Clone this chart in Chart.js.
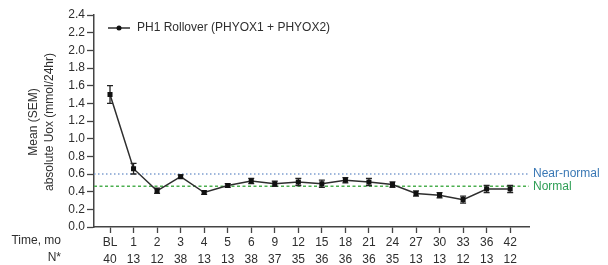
<!DOCTYPE html>
<html>
<head>
<meta charset="utf-8">
<script src="https://cdn.jsdelivr.net/npm/chart.js@4"></script>
<style>
    html, body { margin: 0; padding: 0; background: #fff; }
    #wrap { width: 608px; height: 265px; }
</style>
</head>
<body>
<div id="wrap"><canvas id="uoxChart" width="608" height="265"></canvas></div>
<script>
// Data
const timeLabels = ['BL', '1', '2', '3', '4', '5', '6', '9', '12', '15', '18', '21', '24', '27', '30', '33', '36', '42'];
const nLabels = ['40', '13', '12', '38', '13', '13', '38', '37', '35', '36', '36', '36', '35', '13', '13', '12', '13', '12'];
const meanUox = [1.50, 0.66, 0.41, 0.57, 0.39, 0.47, 0.52, 0.49, 0.51, 0.49, 0.53, 0.51, 0.48, 0.38, 0.36, 0.31, 0.43, 0.43];
const semUox = [0.10, 0.06, 0.03, 0.02, 0.02, 0.02, 0.03, 0.03, 0.04, 0.04, 0.03, 0.04, 0.03, 0.03, 0.03, 0.04, 0.04, 0.04];
const yTicks = [0, 0.2, 0.4, 0.6, 0.8, 1.0, 1.2, 1.4, 1.6, 1.8, 2.0, 2.2, 2.4];
const nearNormal = 0.6;
const normal = 0.46;

const FONT = '"Liberation Sans", Arial, Helvetica, sans-serif';
const INK = '#2e2e2e';
const FS = 12;

// Error bars, reference lines, legend and row headers
const extrasPlugin = {
    id: 'extras',
    beforeDatasetsDraw(chart) {
        const ctx = chart.ctx;
        const x = chart.scales.x;
        const y = chart.scales.y;
        const area = chart.chartArea;

        ctx.save();
        // Near-normal (blue dotted)
        ctx.strokeStyle = '#7f9fcf';
        ctx.lineWidth = 1.5;
        ctx.setLineDash([1.5, 2.5]);
        ctx.beginPath();
        ctx.moveTo(area.left, y.getPixelForValue(nearNormal));
        ctx.lineTo(area.right, y.getPixelForValue(nearNormal));
        ctx.stroke();
        // Normal (green dashed)
        ctx.strokeStyle = '#4caf50';
        ctx.setLineDash([3, 2.5]);
        ctx.beginPath();
        ctx.moveTo(area.left, y.getPixelForValue(normal));
        ctx.lineTo(area.right, y.getPixelForValue(normal));
        ctx.stroke();
        ctx.setLineDash([]);

        ctx.font = FS + 'px ' + FONT;
        ctx.textAlign = 'left';
        ctx.textBaseline = 'middle';
        ctx.fillStyle = '#3a78b5';
        ctx.fillText('Near-normal', area.right + 4, y.getPixelForValue(nearNormal));
        ctx.fillStyle = '#2e9e55';
        ctx.fillText('Normal', area.right + 4, y.getPixelForValue(normal));

        // SEM error bars
        ctx.strokeStyle = '#222';
        ctx.lineWidth = 1.3;
        meanUox.forEach((m, i) => {
            const px = x.getPixelForValue(i);
            const top = y.getPixelForValue(m + semUox[i]);
            const bot = y.getPixelForValue(m - semUox[i]);
            ctx.beginPath();
            ctx.moveTo(px, top); ctx.lineTo(px, bot);
            ctx.moveTo(px - 3, top); ctx.lineTo(px + 3, top);
            ctx.moveTo(px - 3, bot); ctx.lineTo(px + 3, bot);
            ctx.stroke();
        });
        ctx.restore();
    },
    afterDraw(chart) {
        const ctx = chart.ctx;
        const area = chart.chartArea;
        ctx.save();

        // Legend
        const lx = area.left + 14, ly = area.top + 13;
        ctx.strokeStyle = INK;
        ctx.lineWidth = 1.5;
        ctx.beginPath();
        ctx.moveTo(lx, ly); ctx.lineTo(lx + 22, ly);
        ctx.stroke();
        ctx.fillStyle = '#111';
        ctx.beginPath();
        ctx.arc(lx + 11, ly, 2.5, 0, Math.PI * 2);
        ctx.fill();
        ctx.font = FS + 'px ' + FONT;
        ctx.fillStyle = INK;
        ctx.textAlign = 'left';
        ctx.textBaseline = 'middle';
        ctx.fillText('PH1 Rollover (PHYOX1 + PHYOX2)', lx + 29, ly);

        // Y title
        ctx.save();
        ctx.translate(34, (area.top + area.bottom) / 2 + 1);
        ctx.rotate(-Math.PI / 2);
        ctx.textAlign = 'center';
        ctx.fillText('Mean (SEM)', 0, 0);
        ctx.fillText('absolute Uox (mmol/24hr)', 0, 16);
        ctx.restore();

        // Row headers
        ctx.textAlign = 'right';
        ctx.fillText('Time, mo', 61, area.bottom + 14);
        ctx.fillText('N*', 61, area.bottom + 31);
        ctx.restore();
    }
};

const ctx = document.getElementById('uoxChart').getContext('2d');

new Chart(ctx, {
    type: 'line',
    data: {
        datasets: [{
            label: 'PH1 Rollover (PHYOX1 + PHYOX2)',
            data: meanUox.map((v, i) => ({ x: i, y: v })),
            borderColor: INK,
            borderWidth: 1.5,
            pointBackgroundColor: '#111',
            pointBorderColor: '#111',
            pointRadius: 2.5,
            pointStyle: 'rect',
            tension: 0
        }]
    },
    plugins: [extrasPlugin],
    options: {
        responsive: false,
        animation: false,
        layout: {
            padding: { top: 15, right: 79, bottom: 0, left: 0 }
        },
        plugins: {
            legend: { display: false },
            tooltip: { enabled: false }
        },
        scales: {
            x: {
                type: 'linear',
                min: -0.68,
                max: 17.8,
                afterBuildTicks: function (scale) {
                    scale.ticks = timeLabels.map((_, i) => ({ value: i }));
                },
                afterFit: function (scale) {
                    scale.height = 38;
                },
                ticks: {
                    autoSkip: false,
                    maxRotation: 0,
                    padding: 1,
                    color: INK,
                    font: { family: FONT, size: FS, lineHeight: 1.4 },
                    callback: function (value) {
                        return [timeLabels[value], nLabels[value]];
                    }
                },
                grid: {
                    drawOnChartArea: false,
                    drawTicks: true,
                    tickLength: 6,
                    tickWidth: 1.3,
                    tickColor: '#444'
                },
                border: { color: '#444', width: 1.5 }
            },
            y: {
                min: 0,
                max: 2.4,
                afterBuildTicks: function (scale) {
                    scale.ticks = yTicks.map(v => ({ value: v }));
                },
                afterFit: function (scale) {
                    scale.width = 94;
                },
                ticks: {
                    padding: 2,
                    color: INK,
                    font: { family: FONT, size: FS },
                    callback: function (value) {
                        return value.toFixed(1);
                    }
                },
                grid: {
                    drawOnChartArea: false,
                    drawTicks: true,
                    tickLength: 7,
                    tickWidth: 1.3,
                    tickColor: '#444'
                },
                border: { color: '#444', width: 1.5 }
            }
        }
    }
});
</script>
</body>
</html>
